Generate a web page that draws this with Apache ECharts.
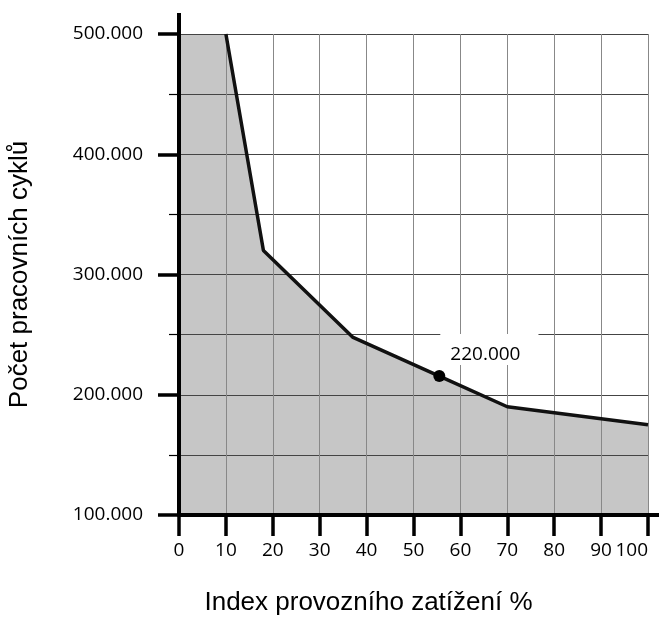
<!DOCTYPE html>
<html>
<head>
<meta charset="utf-8">
<script src="https://cdn.jsdelivr.net/npm/echarts@6/dist/echarts.min.js"></script>
<style>
  html, body { margin: 0; padding: 0; background: #fff; }
  #chart { width: 659px; height: 618px; }
</style>
</head>
<body>
<div id="chart"></div>
<script>
  // curve of the load index vs working cycles
  var loadIndex = [10, 18, 37, 55.5, 70, 100];
  var cycles = [500000, 320000, 248000, 215500, 190000, 175000];
  // the fill starts flat at the top left
  var fillStart = [0, 500000];
  // marked point and its label
  var markIndex = 55.5;
  var markCycles = 215500;
  var markLabel = '220.000';
  var xTicks = [0, 10, 20, 30, 40, 50, 60, 70, 80, 90, 100];
  var yTicks = [100000, 200000, 300000, 400000, 500000];

  var font = '"Open Sans", "Noto Sans", sans-serif';
  var nameFont = '"Liberation Sans", Arial, sans-serif';

  var linePts = loadIndex.map(function (x, i) { return [x, cycles[i]]; });
  var fillPts = [fillStart].concat(linePts);

  function fmt(v) {
    return String(v).replace(/\B(?=(\d{3})+(?!\d))/g, '.');
  }

  var chart = echarts.init(document.getElementById('chart'));
  chart.setOption({
    animation: false,
    grid: { left: 179, right: 11, top: 34, bottom: 103, containLabel: false, outerBoundsMode: 'none' },
    xAxis: {
      type: 'value',
      min: xTicks[0],
      max: xTicks[xTicks.length - 1],
      interval: 10,
      z: 3,
      name: 'Index provozního zatížení %',
      nameLocation: 'middle',
      nameGap: 75,
      nameTextStyle: { fontFamily: nameFont, fontSize: 26, color: '#000', padding: [0, 90, 0, 0] },
      axisLine: { lineStyle: { color: '#000', width: 4 } },
      axisTick: { length: 21, lineStyle: { color: '#000', width: 3.5 } },
      axisLabel: { margin: 26, fontFamily: font, fontSize: 19, color: '#000', alignMaxLabel: 'right' },
      splitLine: { show: true, lineStyle: { color: '#888', width: 1 } }
    },
    yAxis: {
      type: 'value',
      min: yTicks[0],
      max: yTicks[yTicks.length - 1],
      interval: 100000,
      z: 3,
      name: 'Počet pracovních cyklů',
      nameLocation: 'middle',
      nameGap: 146,
      nameRotate: 90,
      nameTextStyle: { fontFamily: nameFont, fontSize: 26, color: '#000' },
      axisLine: { show: true, lineStyle: { color: '#000', width: 4 } },
      axisTick: { show: true, length: 21, lineStyle: { color: '#000', width: 3.5 } },
      minorTick: { show: true, splitNumber: 2, length: 10, lineStyle: { color: '#000', width: 1.2 } },
      axisLabel: { margin: 36, fontFamily: font, fontSize: 19, color: '#000', formatter: fmt },
      splitLine: { show: true, lineStyle: { color: '#444', width: 1 } },
      minorSplitLine: { show: true, lineStyle: { color: '#444', width: 1 } }
    },
    series: [
      {
        type: 'line',
        data: fillPts,
        symbol: 'none',
        lineStyle: { width: 0, opacity: 0 },
        areaStyle: { color: '#c6c6c6', opacity: 1, origin: 'start' },
        z: 1,
        silent: true
      },
      {
        type: 'line',
        data: linePts,
        symbol: 'none',
        lineStyle: { color: '#111', width: 3.5 },
        z: 4
      },
      {
        type: 'scatter',
        data: [[markIndex, markCycles]],
        symbol: 'circle',
        symbolSize: 12,
        itemStyle: { color: '#000', opacity: 1 },
        z: 5,
        label: {
          show: true,
          formatter: markLabel,
          position: [7, -36],
          fontFamily: font,
          fontSize: 19,
          lineHeight: 20,
          color: '#000',
          backgroundColor: '#fff',
          padding: [10, 18, 1, 10]
        }
      }
    ]
  });

  // axis lines run a bit past the plot
  var origin = chart.convertToPixel({ gridIndex: 0 }, [xTicks[0], yTicks[0]]);
  var corner = chart.convertToPixel({ gridIndex: 0 }, [xTicks[xTicks.length - 1], yTicks[yTicks.length - 1]]);
  chart.setOption({
    graphic: [
      { type: 'line', z: 10, shape: { x1: origin[0], y1: corner[1], x2: origin[0], y2: corner[1] - 21 }, style: { stroke: '#000', lineWidth: 4 } },
      { type: 'line', z: 10, shape: { x1: corner[0], y1: origin[1], x2: corner[0] + 11, y2: origin[1] }, style: { stroke: '#000', lineWidth: 4 } }
    ]
  });
</script>
</body>
</html>
